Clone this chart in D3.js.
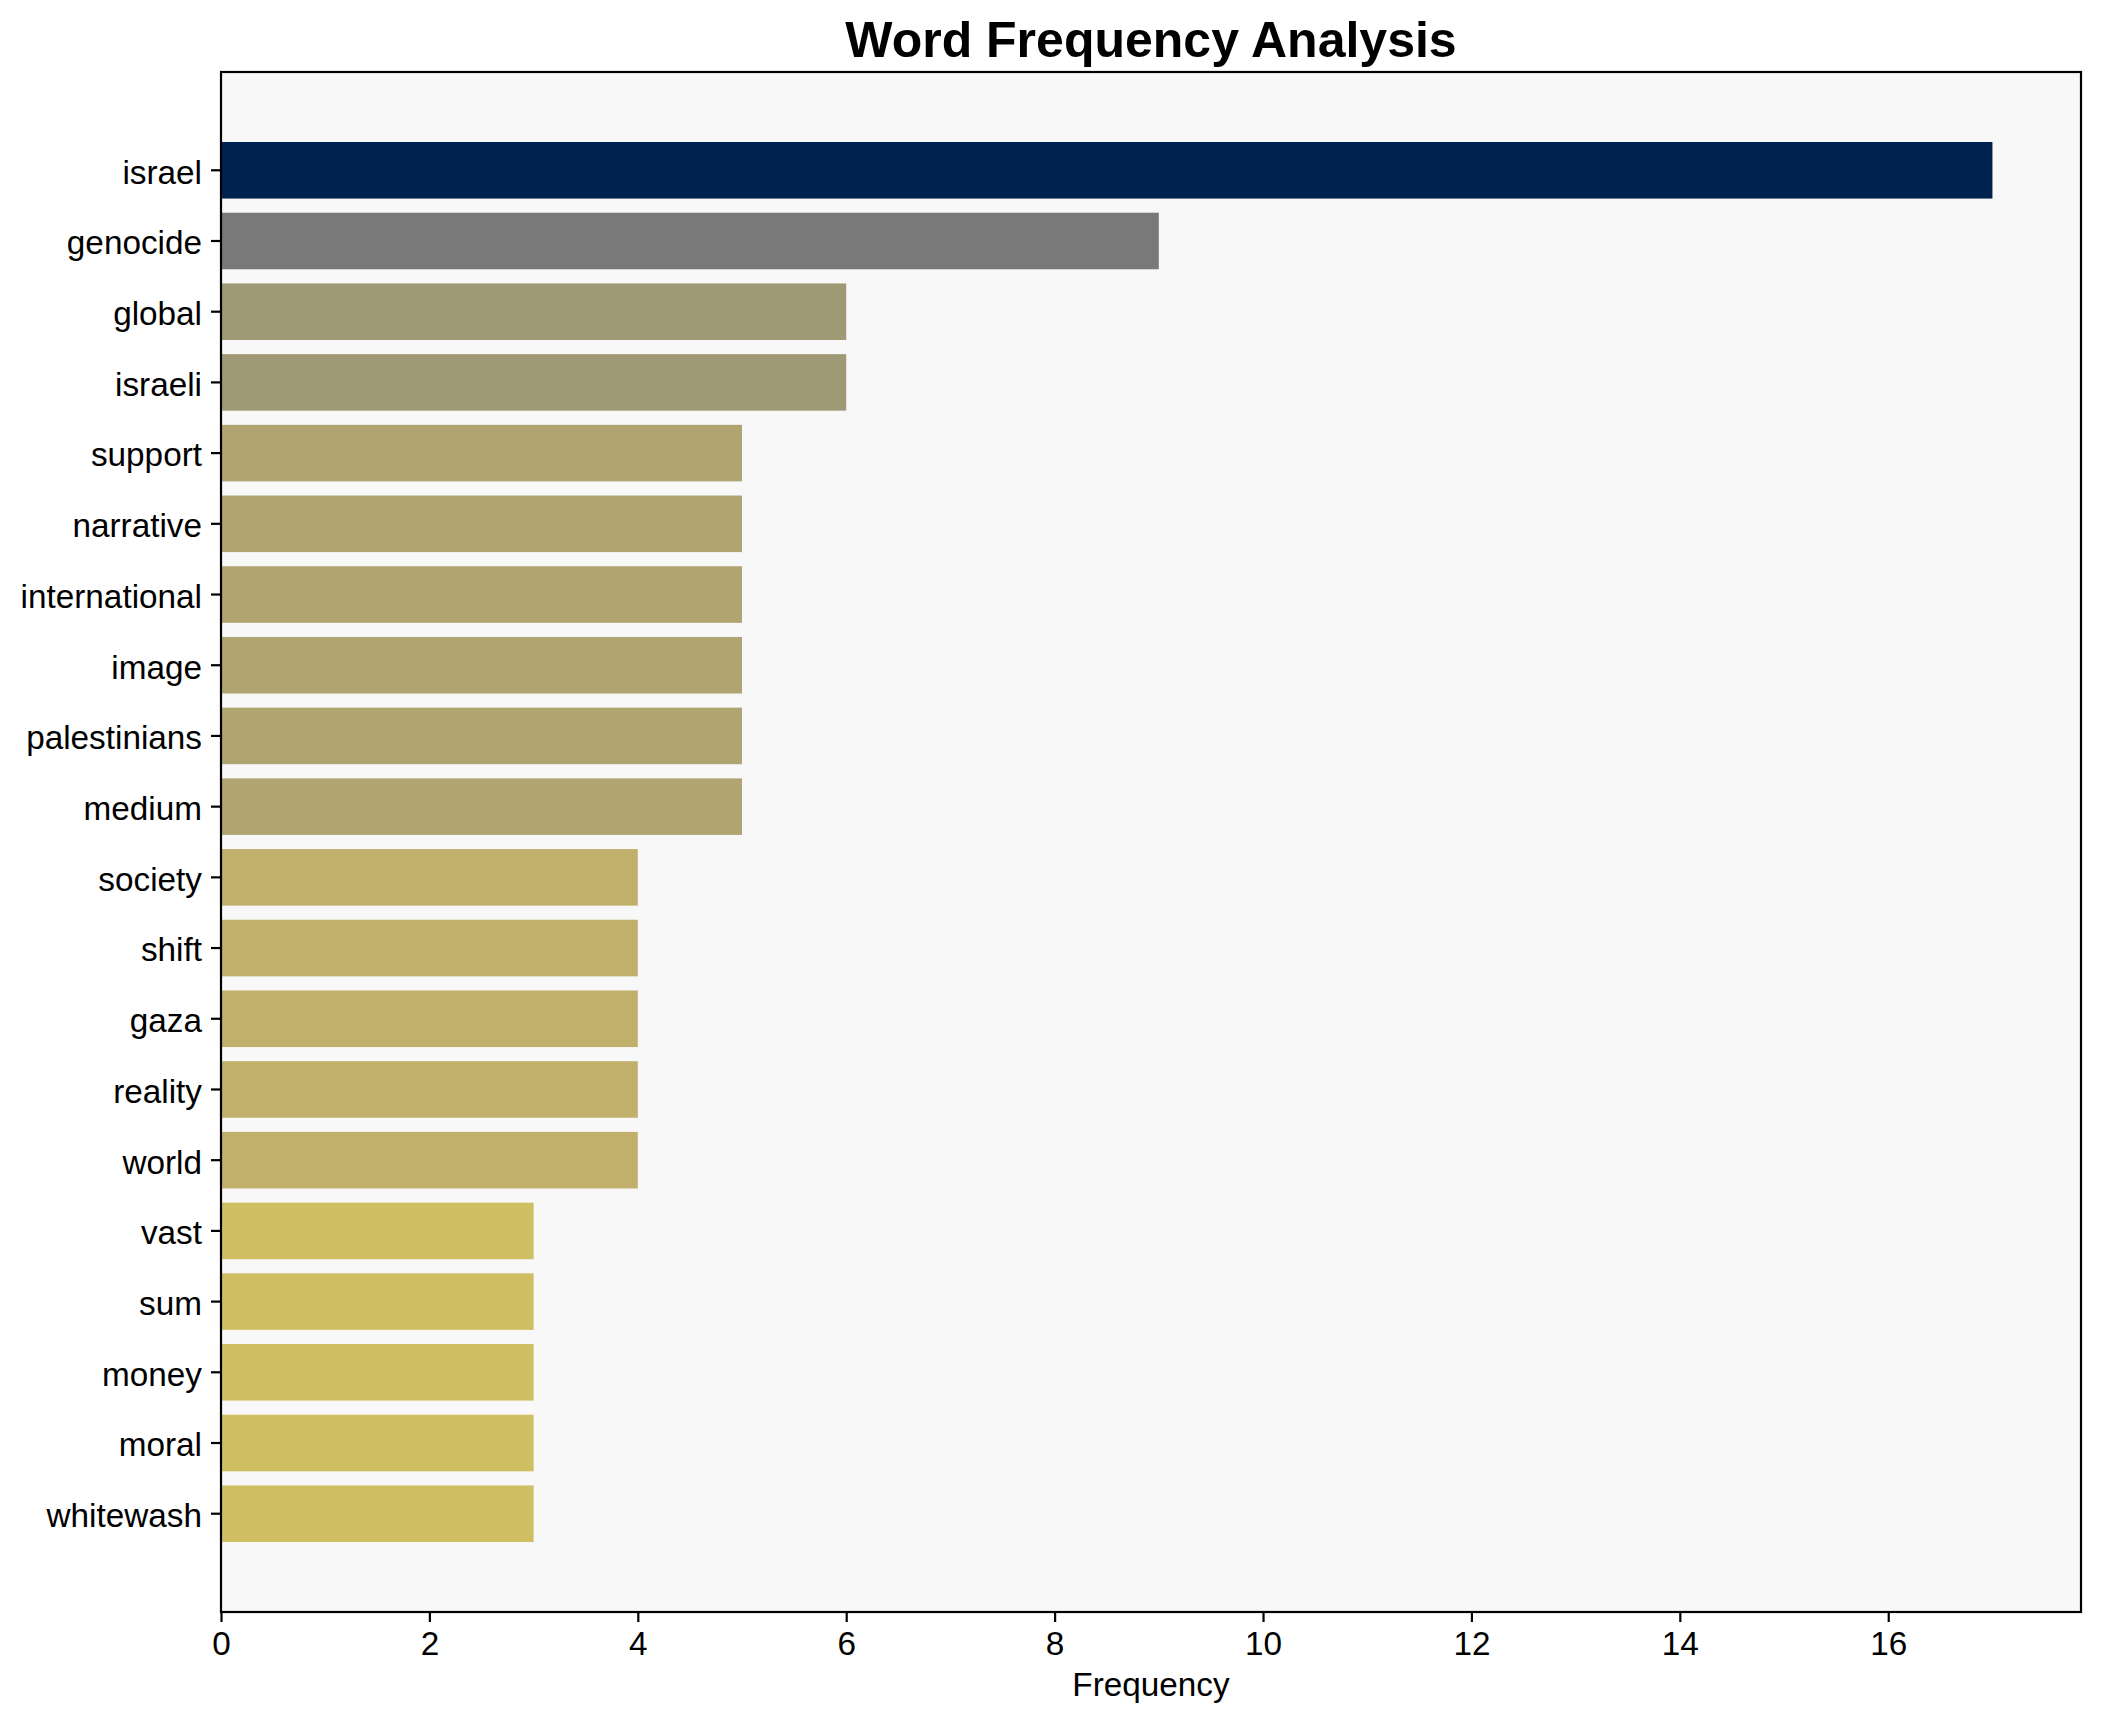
<!DOCTYPE html>
<html>
<head>
<meta charset="utf-8">
<script src="https://cdn.jsdelivr.net/npm/d3@7"></script>
<style>
  html, body { margin: 0; padding: 0; background: #ffffff; }
  svg { display: block; }
</style>
</head>
<body>
<div id="chart"></div>
<script>
// ---- Data ----
const words = ["israel", "genocide", "global", "israeli", "support", "narrative", "international", "image", "palestinians", "medium", "society", "shift", "gaza", "reality", "world", "vast", "sum", "money", "moral", "whitewash"];
const frequencies = [17, 9, 6, 6, 5, 5, 5, 5, 5, 5, 4, 4, 4, 4, 4, 3, 3, 3, 3, 3];
const xTickValues = [0, 2, 4, 6, 8, 10, 12, 14, 16];
const colorValues = [17, 9, 6, 5, 4, 3];
const colorPalette = ["#00224e", "#797979", "#a09975", "#b0a470", "#c0b06b", "#cfbf62"];
const titleText = "Word Frequency Analysis";
const xLabelText = "Frequency";

// ---- Layout ----
const W = 2101, H = 1722;
const plot = { left: 221, right: 2081, top: 72, bottom: 1612 };
const FONT = "'Liberation Sans', Arial, Helvetica, sans-serif";
const tickLen = 10, tickPad = 9;

const svg = d3.select("#chart").append("svg")
  .attr("width", W).attr("height", H)
  .attr("viewBox", `0 0 ${W} ${H}`);

svg.append("rect").attr("width", W).attr("height", H).attr("fill", "#ffffff");

const xMax = d3.max(frequencies) * 1.05;
const x = d3.scaleLinear().domain([0, xMax]).range([plot.left, plot.right]);
const y = d3.scaleBand().domain(words).range([plot.top, plot.bottom])
  .paddingInner(0.2).paddingOuter(0.99);
const color = d3.scaleOrdinal().domain(colorValues).range(colorPalette);

// axes background
svg.append("rect")
  .attr("x", plot.left).attr("y", plot.top)
  .attr("width", plot.right - plot.left).attr("height", plot.bottom - plot.top)
  .attr("fill", "#f8f8f8");

// bars
const data = words.map((w, i) => ({ word: w, value: frequencies[i] }));
svg.append("g").selectAll("rect").data(data).join("rect")
  .attr("x", x(0))
  .attr("y", d => y(d.word))
  .attr("width", d => x(d.value) - x(0))
  .attr("height", y.bandwidth())
  .attr("fill", d => color(d.value));

// x axis
const xAxis = d3.axisBottom(x).tickValues(xTickValues).tickSize(tickLen).tickPadding(tickPad).tickFormat(d3.format("d"));
const gx = svg.append("g").attr("transform", `translate(0,${plot.bottom})`).call(xAxis);
gx.select(".domain").remove();
gx.selectAll(".tick line").attr("stroke", "#000").attr("stroke-width", 2.2);
gx.selectAll(".tick text")
  .attr("font-family", FONT).attr("font-size", 33.3).attr("fill", "#000");

// y axis
const yAxis = d3.axisLeft(y).tickSize(tickLen).tickPadding(tickPad);
const gy = svg.append("g").attr("transform", `translate(${plot.left},0)`).call(yAxis);
gy.select(".domain").remove();
gy.selectAll(".tick line").attr("stroke", "#000").attr("stroke-width", 2.2);
gy.selectAll(".tick text")
  .attr("dy", "0.4em")
  .attr("font-family", FONT).attr("font-size", 33.3).attr("fill", "#000");

// frame (spines)
svg.append("rect")
  .attr("x", plot.left).attr("y", plot.top)
  .attr("width", plot.right - plot.left).attr("height", plot.bottom - plot.top)
  .attr("fill", "none").attr("stroke", "#000").attr("stroke-width", 2.2);

// title
svg.append("text")
  .attr("x", (plot.left + plot.right) / 2).attr("y", 57)
  .attr("text-anchor", "middle")
  .attr("font-family", FONT).attr("font-weight", "bold").attr("font-size", 50)
  .attr("fill", "#000")
  .text(titleText);

// x label
svg.append("text")
  .attr("x", (plot.left + plot.right) / 2).attr("y", 1696)
  .attr("text-anchor", "middle")
  .attr("font-family", FONT).attr("font-size", 33.3)
  .attr("fill", "#000")
  .text(xLabelText);
</script>
</body>
</html>
